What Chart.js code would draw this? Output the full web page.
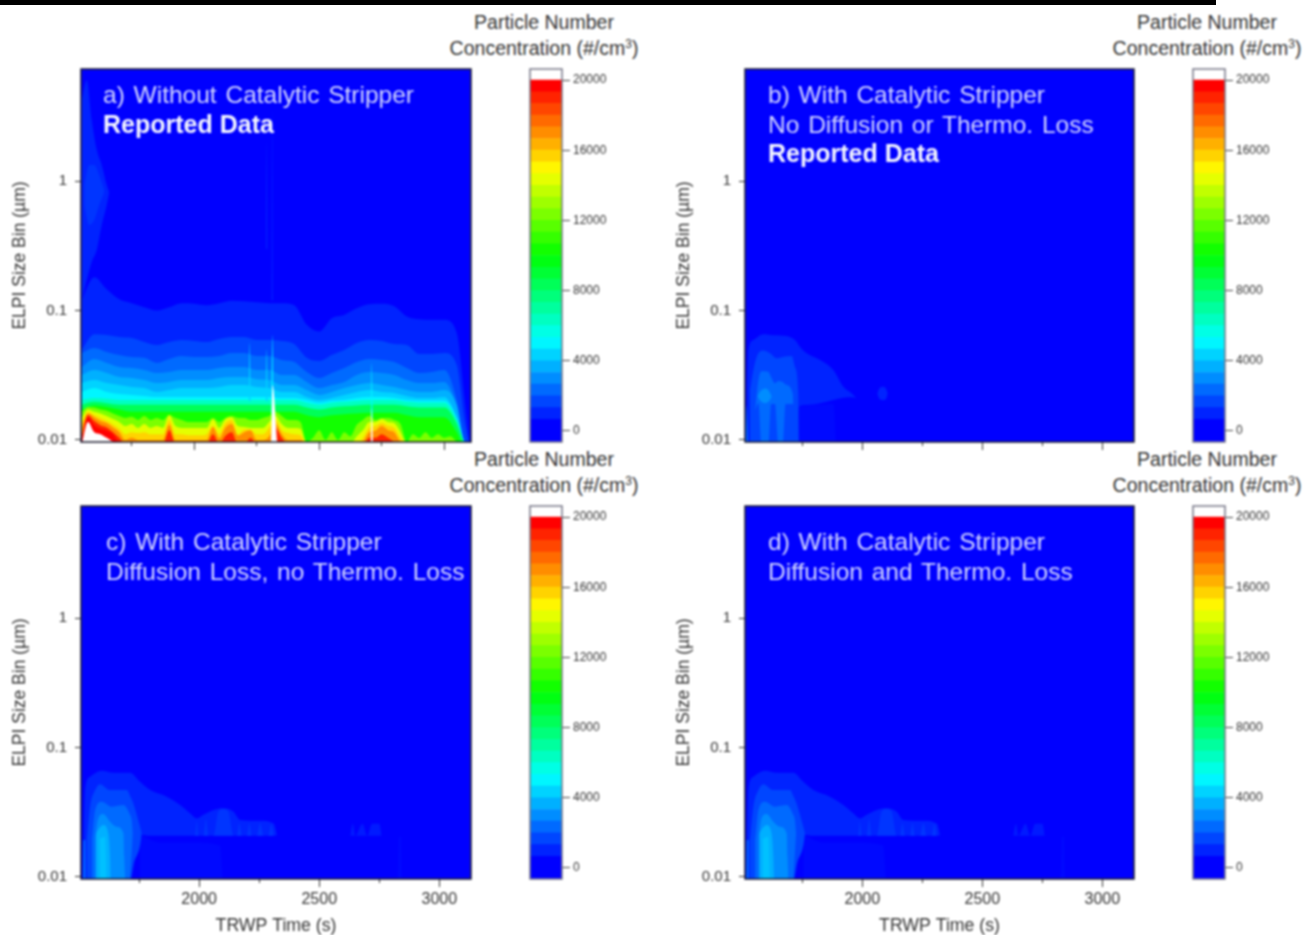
<!DOCTYPE html>
<html>
<head>
<meta charset="utf-8">
<title>ELPI size distributions</title>
<script src="https://cdn.jsdelivr.net/npm/chart.js@4/dist/chart.umd.min.js"></script>
<style>
  html, body { margin: 0; background: #fff; overflow: hidden; }
  #page { position: relative; width: 1307px; height: 935px; background: #fff; font-family: "Liberation Sans", Arial, sans-serif; filter: blur(0.8px); overflow: hidden; }
  #page canvas { position: absolute; }
  #topbar { position: absolute; left: 0; top: 0; width: 1216px; height: 5px; background: #000; z-index: 3; }
  .cbtitle { position: absolute; width: 220px; text-align: center; font-size: 19.5px; line-height: 26px; color: #333; white-space: nowrap; }
  .cbtitle sup { font-size: 12px; line-height: 0; }
  .note { position: absolute; font-size: 24.5px; line-height: 29.5px; color: #d4d8ff; white-space: pre; word-spacing: 2px; z-index: 2; }
  .note b { color: #f4f6ff; font-size: 25px; word-spacing: 0; }
</style>
</head>
<body>
<div id="topbar"></div>
<div id="page">
  <div class="cbtitle" style="left:434px;top:9px">Particle Number<br>Concentration (#/cm<sup>3</sup>)</div>
  <div class="cbtitle" style="left:1097px;top:9px">Particle Number<br>Concentration (#/cm<sup>3</sup>)</div>
  <div class="cbtitle" style="left:434px;top:446px">Particle Number<br>Concentration (#/cm<sup>3</sup>)</div>
  <div class="cbtitle" style="left:1097px;top:446px">Particle Number<br>Concentration (#/cm<sup>3</sup>)</div>
  <div class="note" style="left:103px;top:80px">a) Without Catalytic Stripper
<b>Reported Data</b></div>
  <div class="note" style="left:768px;top:80px">b) With Catalytic Stripper
No Diffusion or Thermo. Loss
<b>Reported Data</b></div>
  <div class="note" style="left:106px;top:527px">c) With Catalytic Stripper
Diffusion Loss, no Thermo. Loss</div>
  <div class="note" style="left:768px;top:527px">d) With Catalytic Stripper
Diffusion and Thermo. Loss</div>
</div>
<script>
'use strict'

// axis ticks
const xMajorTicks = [2000, 2500, 3000];
const xMinorTicks = [1750, 2250, 2750];
const yMajorTicks = [0.01, 0.1, 1];
const yMinorTicks = [0.02, 0.03, 0.04, 0.05, 0.06, 0.07, 0.08, 0.09, 0.2, 0.3, 0.4, 0.5, 0.6, 0.7, 0.8, 0.9, 2, 3, 4, 5, 6, 7];
const colorbarTicks = [0, 4000, 8000, 12000, 16000, 20000];
const colorbarEdges = [-627, 667, 1333, 2000, 2667, 3333, 4000, 4667, 5333, 6000, 6667, 7333, 8000, 8667, 9333, 10000, 10667, 11333, 12000, 12667, 13333, 14000, 14667, 15333, 16000, 16667, 17333, 18000, 18667, 19333, 20000, 20627];

// panel a: size (um) where the concentration crosses each level
const aTimes = [1550, 1600, 1650, 1700, 1750, 1800, 1850, 1900, 1950, 2000, 2050, 2100, 2150, 2200, 2250, 2300, 2350, 2400, 2450, 2500, 2550, 2600, 2650, 2700, 2750, 2800, 2850, 2900, 2950, 3000, 3050, 3080, 3100];
const aEdge667 = [.121, .181, .146, .122, .114, .106, .1, .106, .114, .113, .11, .114, .119, .118, .116, .114, .114, .11, .0775, .069, .0873, .0925, .104, .112, .113, .108, .09, .0855, .0847, .0847, .067, .0218, .0097];
const aEdge1333 = [.05, .0656, .0647, .0624, .0613, .0571, .0541, .0571, .0592, .0582, .0571, .0603, .0624, .0624, .0592, .0592, .0582, .0551, .0431, .0407, .0453, .0495, .0561, .0592, .0582, .0551, .0541, .0461, .0461, .0469, .038, .0143, .0092];
const aEdge2000 = [.0469, .0514, .0478, .0453, .0437, .0431, .0394, .0422, .0445, .0437, .0437, .0445, .0469, .0469, .0445, .0445, .0415, .04, .0335, .0301, .0329, .0359, .04, .0422, .0415, .04, .0359, .0329, .0335, .0347, .0204, .0097, .009];
const aEdge2667 = [.0366, .0422, .0394, .0366, .0359, .0347, .0329, .0335, .0347, .0347, .0347, .0359, .0366, .0366, .0347, .0347, .0318, .0318, .0281, .0252, .0266, .0281, .0318, .0335, .0329, .0318, .029, .0275, .0275, .0281, .018, .0097, .009];
const aEdge3333 = [.0318, .0347, .0329, .0306, .0301, .029, .0275, .0281, .029, .029, .029, .0301, .0306, .0306, .0295, .029, .0266, .0266, .0243, .0223, .0235, .0252, .0266, .0275, .0266, .0257, .0243, .0235, .0235, .0243, .0186, .0097, .009];
const aEdge4000 = [.0275, .029, .0275, .0266, .0257, .0252, .0235, .0243, .0252, .0252, .0252, .0257, .0266, .0266, .0257, .0252, .0235, .0235, .0215, .0204, .0211, .0223, .0235, .0243, .0235, .0231, .0219, .0211, .0211, .0215, .015, .0097, .009];
const aEdge4667 = [.0235, .0252, .0235, .0227, .0223, .0219, .0215, .0215, .0215, .0215, .0215, .0215, .0215, .0215, .0215, .0215, .0211, .0211, .0204, .0194, .0201, .0204, .0211, .0215, .0215, .0211, .0204, .0201, .0201, .0201, .0148, .0097, .009];
const aEdge6000 = [.0204, .0211, .0208, .0204, .0204, .0204, .0204, .0204, .0204, .0204, .0204, .0204, .0204, .0204, .0204, .0204, .0204, .0204, .0194, .0187, .0194, .0197, .0201, .0204, .0204, .0204, .0197, .0194, .0194, .0194, .0143, .0097, .009];
const aEdge8000 = [.0187, .0197, .0192, .0187, .0187, .0187, .0187, .0187, .0187, .0187, .0187, .0187, .0187, .0187, .0187, .0187, .0187, .0187, .0178, .0172, .0178, .0182, .0185, .0187, .0187, .0187, .0182, .0178, .0178, .0178, .0134, .0095, .009];
const aEdge10000 = [.0172, .0185, .018, .0172, .0165, .0165, .0165, .0165, .0165, .0165, .0165, .0165, .0165, .0165, .0165, .0165, .0165, .0165, .0155, .015, .0155, .0158, .016, .0162, .0162, .0162, .0155, .015, .015, .015, .0115, .009, .009];

const aHotTimes = [1550, 1575, 1600, 1625, 1650, 1675, 1700, 1725, 1750,
  1775, 1800, 1825, 1850, 1875, 1900, 1925, 1950, 1975,
  2000, 2025, 2050, 2075, 2100, 2125, 2150, 2175, 2200,
  2225, 2250, 2275, 2300, 2325, 2350, 2375, 2400, 2425,
  2450, 2475, 2500, 2525, 2550, 2575, 2600, 2625, 2650,
  2675, 2700, 2725, 2750, 2775, 2800, 2825, 2850, 2875,
  2900, 2925, 2950, 2975, 3000, 3025, 3050, 3075, 3100];
const aHot12000 = [.0165, .018, .0178, .0172, .0168, .016, .0153, .0148, .0151,
  .0143, .0153, .0143, .0148, .0143, .0156, .0148, .0143, .0138,
  .0138, .0138, .0138, .0148, .0138, .0148, .0153, .0148, .0148,
  .0143, .0143, .0148, .0153, .0165, .0153, .0143, .0143, .0138,
  .0097, .0104, .0119, .01, .0115, .01, .0115, .0107, .0131,
  .0143, .0153, .0143, .0148, .0148, .0143, .0133, .0097, .0111,
  .0104, .0115, .0104, .0111, .0104, .0107, .0097, .0093, .0093];
const aHot14000 = [.0148, .0172, .0165, .016, .0153, .0145, .0138, .0128, .0133,
  .0124, .0133, .0124, .0128, .0124, .0156, .0128, .0124, .0124,
  .0124, .0124, .0124, .0145, .0124, .0145, .015, .0128, .0126,
  .0124, .0124, .0124, .0138, .0153, .0133, .0124, .0124, .0122,
  .0093, .0093, .0093, .0093, .0093, .0093, .0093, .0093, .0107,
  .0119, .0138, .0138, .0145, .0138, .0135, .0115, .0093, .0093,
  .0093, .0093, .0093, .0093, .0093, .0093, .0093, .0093, .0093];
const aHot15333 = [.0135, .0165, .0155, .0148, .014, .0132, .0122, .0111, .0115,
  .0113, .0115, .0111, .0111, .0111, .0143, .0111, .0111, .0109,
  .0109, .0109, .0111, .0128, .0111, .0135, .0143, .0111, .012,
  .012, .0111, .0111, .0124, .0143, .0119, .0113, .0111, .0109,
  .0093, .0093, .0093, .0093, .0093, .0093, .0093, .0093, .0093,
  .0104, .0124, .0128, .0135, .0128, .0124, .0104, .0093, .0093,
  .0093, .0093, .0093, .0093, .0093, .0093, .0093, .0093, .0093];
const aHot16667 = [.0125, .016, .015, .014, .0135, .0125, .0115, .01, .0104,
  .01, .01, .01, .01, .01, .0131, .01, .01, .01,
  .01, .01, .01, .0126, .0103, .0125, .0133, .0108, .0115,
  .0119, .01, .01, .0107, .0133, .0111, .01, .01, .01,
  .0093, .0093, .0093, .0093, .0093, .0093, .0093, .0093, .0093,
  .0097, .0115, .0118, .0128, .0119, .0115, .0097, .0093, .0093,
  .0093, .0093, .0093, .0093, .0093, .0093, .0093, .0093, .0093];
const aHot18667 = [.0107, .0155, .014, .013, .0125, .0115, .0104, .0093, .0093,
  .0093, .0093, .0093, .0093, .0093, .0119, .0093, .0093, .0093,
  .0093, .0093, .0093, .0111, .0093, .0108, .0115, .0093, .0093,
  .0104, .0093, .0093, .0093, .0124, .0104, .0093, .0093, .0093,
  .0093, .0093, .0093, .0093, .0093, .0093, .0093, .0093, .0093,
  .0093, .0104, .0104, .0111, .0104, .0097, .0093, .0093, .0093,
  .0093, .0093, .0093, .0093, .0093, .0093, .0093, .0093, .0093];
const aRedTimes = [1550, 1575, 1600, 1625, 1650, 1675, 1700];
const aRed19333 = [.0097, .015, .013, .0122, .0118, .0111, .0093];
const aWhite20000 = [.0093, .0138, .0115, .0111, .0104, .0097, .0093];

// panel a: narrow spikes and the faint plume at top left
const aSpike1Times = [2307, 2313, 2332];
const aSpike1White = [.0093, .0266, .0093];
const aSpike1CyanTimes = [2308, 2313, 2318];
const aSpike1Cyan = [.0093, .0647, .0093];
const aSpike2Times = [2706, 2710, 2715];
const aSpike2White = [.0093, .0175, .0093];
const aSpike2Cyan = [.0093, .0394, .0093];
const aSpike3Times = [2218, 2222, 2226];
const aSpike3 = [.02, .0566, .02];
const aSpike4Times = [2286, 2290, 2294];
const aSpike4 = [.02, .05, .02];
const aStreak1Times = [2309, 2312, 2315];
const aStreak1 = [.12, 3.5, .12];
const aStreak2Times = [2287, 2290, 2293];
const aStreak2 = [.3, 2, .3];
const aPlumeTimes = [1550, 1570, 1590, 1610, 1630, 1650, 1660];
const aPlumeTop = [4.22, 6, 2.96, 1.74, 1.33, .93, .82];
const aPlumeBottom = [.12, .172, .237, .293, .457, .653, .82];
const aCoreTimes = [1560, 1580, 1600, 1620, 1640];
const aCoreTop = [.93, 1.33, 1.33, 1.11, .85];
const aCoreBottom = [.653, .457, .5, .653, .82];

// panel b
const bTimes = [1518, 1525, 1546, 1587, 1629, 1685, 1726, 1735, 1768, 1824, 1879, 1921, 1956, 1975];
const bOuterTop = [.0216, .0495, .0592, .0655, .0645, .0635, .0575, .054, .0467, .0415, .0347, .0258, .0229, .0211];
const bOuterBottom = [.0093, .0093, .0093, .0093, .0093, .0093, .0093, .018, .0186, .0192, .0204, .0212, .0214, .0211];
const bFaintTimes = [1726, 1800, 1880, 1890];
const bFaint = [.018, .0186, .019, .0093];
const bBlobTimes = [2062, 2072, 2086, 2098, 2106];
const bBlobTop = [.0228, .0252, .0258, .025, .0228];
const bBlobBottom = [.0228, .0207, .0203, .0207, .0228];
const b1333Times = [1532, 1546, 1560, 1587, 1615, 1643, 1671, 1706, 1719, 1733, 1736];
const b1333 = [.0243, .0347, .044, .049, .0467, .0428, .044, .0445, .0368, .0229, .0093];
const b2000Times = [1553, 1567, 1580, 1608, 1620, 1636, 1650, 1668, 1680, 1710, 1713];
const b2000Top = [.017, .0291, .034, .0336, .0305, .0274, .0285, .028, .0268, .0229, .019];
const b2000Bottom = [.017, .0192, .0093, .0093, .019, .019, .0093, .0093, .019, .019, .019];
const b2667Times = [1565, 1580, 1594, 1608, 1622];
const b2667Top = [.0222, .0243, .025, .0243, .0218];
const b2667Bottom = [.0214, .0197, .0192, .0197, .0214];
const bEdgeTimes = [1514, 1518, 1524];
const bEdgeStreak = [.0093, .0185, .0093];

// panels c and d show almost the same shapes
const cTimes = [1518, 1525, 1546, 1594, 1643, 1712, 1754, 1796, 1865, 1921, 1962, 1990, 2018, 2060, 2101, 2143, 2171, 2212, 2254, 2310, 2324];
const cOuterTop = [.0193, .0469, .0594, .0661, .0638, .0638, .0543, .0469, .0417, .0359, .031, .0283, .0302, .0329, .0339, .0319, .0275, .0272, .0272, .0259, .0211];
const cOuterBottom = [.0093, .0093, .0093, .0093, .0093, .0093, .0212, .0208, .0208, .0208, .0208, .0208, .0208, .0208, .0208, .0208, .0208, .0208, .0208, .0208, .0211];
const cFaintTimes = [1754, 1837, 1976, 2087, 2099];
const cFaint = [.0212, .0185, .0185, .0175, .0093];
const cTailTimes = [1983, 1990, 1997, 2007, 2018, 2028, 2039, 2050, 2060, 2080, 2101, 2122, 2143, 2150, 2157, 2167, 2178, 2188, 2199, 2209, 2219, 2230, 2240, 2254, 2268, 2278, 2289, 2300, 2310];
const cTail = [.0208, .027, .0208, .0208, .0208, .028, .0208, .0208, .0208, .032, .0335, .032, .0208, .0208, .0208, .026, .0208, .0208, .0208, .026, .0208, .0208, .0208, .026, .0208, .0208, .0208, .0255, .0208];
const cCombTimes = [2629, 2640, 2650, 2680, 2700, 2720, 2750, 2760];
const cComb = [.0208, .0258, .0208, .0258, .0208, .0258, .0258, .0208];
const cFarTimes = [2828, 2832, 2840, 2844];
const cFar = [.0093, .0205, .0205, .0093];
const c1333Times = [1532, 1546, 1567, 1587, 1629, 1699, 1712, 1726, 1754, 1761];
const c1333Top = [.0193, .0349, .0469, .0521, .0469, .0469, .0425, .037, .0244, .0217];
const c1333Bottom = [.0093, .0093, .0093, .0093, .0093, .0093, .0093, .0125, .0175, .0217];
const c2000Times = [1553, 1567, 1594, 1636, 1685, 1710, 1719, 1724];
const c2000Top = [.0193, .0329, .0381, .0349, .0359, .0308, .0275, .0217];
const c2000Bottom = [.0093, .0093, .0093, .0093, .0093, .0093, .0152, .0217];
const c2667Times = [1567, 1580, 1601, 1629, 1657, 1685, 1688, 1692];
const c2667 = [.0205, .0283, .0306, .0267, .0244, .0217, .0144, .0093];
const c3333Times = [1571, 1587, 1601, 1622, 1629, 1632];
const c3333 = [.0217, .0242, .0252, .0215, .0144, .0093];
const c3667Times = [1585, 1608, 1615];
const c3667 = [.0197, .0205, .0093];
const cEdgeTimes = [1516, 1518, 1526, 1528];
const cEdgeStreak = [.0093, .0193, .0193, .0093];

// blue, cyan, green, yellow, red, with 20000 as the top of the scale
function colorOf(level) {
  if (level >= 20000) return '#ffffff';
  const v = Math.max(level, 0) * 20000 / 19333 / 5000;
  if (v >= 4) return 'rgb(255,0,0)';
  const f = v - Math.floor(v);
  const up = Math.round(255 * f), down = Math.round(255 * (1 - f));
  if (v < 1) return `rgb(0,${up},255)`;
  if (v < 2) return `rgb(0,255,${down})`;
  if (v < 3) return `rgb(${up},255,0)`;
  return `rgb(255,${down},0)`;
}

function contour(times, sizes, level, fill) {
  return {
    data: times.map((t, i) => ({ x: t, y: sizes[i] })),
    backgroundColor: colorOf(level),
    borderWidth: 0,
    pointRadius: 0,
    cubicInterpolationMode: 'monotone',
    fill: fill === undefined ? 'start' : fill,
  };
}

function band(times, top, bottom, level) {
  return [contour(times, top, level, '+1'), contour(times, bottom, level, false)];
}

function strip(times, sizes, level, base) {
  return contour(times, sizes, level, { value: base });
}

// the first dataset is drawn last
const panelA = [
  contour(aSpike1Times, aSpike1White, 20000),
  contour(aSpike2Times, aSpike2White, 20000),
  contour(aRedTimes, aWhite20000, 20000),
  contour(aRedTimes, aRed19333, 19333),
  contour(aHotTimes, aHot18667, 18667),
  contour(aHotTimes, aHot16667, 16667),
  contour(aHotTimes, aHot15333, 15333),
  contour(aHotTimes, aHot14000, 14000),
  contour(aHotTimes, aHot12000, 12000),
  contour(aSpike1CyanTimes, aSpike1Cyan, 4667),
  contour(aSpike2Times, aSpike2Cyan, 4667),
  strip(aSpike3Times, aSpike3, 4000, .02),
  strip(aSpike4Times, aSpike4, 4000, .02),
  contour(aTimes, aEdge10000, 10000),
  contour(aTimes, aEdge8000, 8000),
  contour(aTimes, aEdge6000, 6000),
  contour(aTimes, aEdge4667, 4667),
  contour(aTimes, aEdge4000, 4000),
  contour(aTimes, aEdge3333, 3333),
  contour(aTimes, aEdge2667, 2667),
  contour(aTimes, aEdge2000, 2000),
  contour(aTimes, aEdge1333, 1333),
  contour(aTimes, aEdge667, 667),
  ...band(aCoreTimes, aCoreTop, aCoreBottom, 1000),
  ...band(aPlumeTimes, aPlumeTop, aPlumeBottom, 667),
  strip(aStreak1Times, aStreak1, 667, .12),
  strip(aStreak2Times, aStreak2, 667, .3),
];

const panelB = [
  ...band(b2667Times, b2667Top, b2667Bottom, 2667),
  ...band(b2000Times, b2000Top, b2000Bottom, 2000),
  contour(b1333Times, b1333, 1333),
  contour(bEdgeTimes, bEdgeStreak, 2000),
  ...band(bTimes, bOuterTop, bOuterBottom, 667),
  ...band(bBlobTimes, bBlobTop, bBlobBottom, 667),
  contour(bFaintTimes, bFaint, 167),
];

function lossPanel() {
  return [
    contour(c3667Times, c3667, 3667),
    contour(c3333Times, c3333, 3333),
    contour(c2667Times, c2667, 2667),
    ...band(c2000Times, c2000Top, c2000Bottom, 2000),
    ...band(c1333Times, c1333Top, c1333Bottom, 1333),
    contour(cEdgeTimes, cEdgeStreak, 2000),
    strip(cTailTimes, cTail, 1000, .0208),
    ...band(cTimes, cOuterTop, cOuterBottom, 667),
    strip(cCombTimes, cComb, 500, .0208),
    contour(cFarTimes, cFar, 167),
    contour(cFaintTimes, cFaint, 167),
  ];
}

const plotBackground = {
  id: 'plotBackground',
  beforeDatasetsDraw(chart) {
    const a = chart.chartArea, ctx = chart.ctx;
    ctx.save();
    ctx.fillStyle = '#0000ff';
    ctx.fillRect(a.left, a.top, a.right - a.left, a.bottom - a.top);
    ctx.restore();
  },
};

const frame = {
  id: 'frame',
  afterDraw(chart, args, opts) {
    const a = chart.chartArea, ctx = chart.ctx;
    ctx.save();
    ctx.strokeStyle = opts.color;
    ctx.lineWidth = 1.5;
    ctx.strokeRect(a.left, a.top, a.right - a.left, a.bottom - a.top);
    ctx.restore();
  },
};

function addCanvas(left, top, width, height) {
  const c = document.createElement('canvas');
  c.width = width;
  c.height = height;
  c.style.left = left + 'px';
  c.style.top = top + 'px';
  c.style.width = width + 'px';
  c.style.height = height + 'px';
  document.getElementById('page').appendChild(c);
  return c.getContext('2d');
}

function setTicks(list) {
  return scale => { scale.ticks = list.map(v => ({ value: v })); };
}

// fixed axis size, and no extra margin for the end tick labels
function fixSize(prop, size) {
  return s => {
    s[prop] = size;
    s.paddingTop = s.paddingBottom = s.paddingLeft = s.paddingRight = 0;
  };
}

function drawPanel(box, datasets, xMin, xMax, labelled) {
  const under = labelled ? 58 : 14;
  const ctx = addCanvas(box.left - 81, box.top - 9, box.right - box.left + 90, box.bottom - box.top + 9 + under);
  new Chart(ctx, {
    type: 'line',
    data: { datasets },
    plugins: [plotBackground, frame],
    options: {
      responsive: false,
      animation: false,
      events: [],
      layout: { padding: { top: 9, right: 9 } },
      plugins: { legend: { display: false }, tooltip: { enabled: false }, frame: { color: '#1c1c30' } },
      scales: {
        x: {
          type: 'linear', min: xMin, max: xMax,
          afterBuildTicks: setTicks(xMajorTicks),
          afterFit: fixSize('height', under),
          grid: { drawOnChartArea: false, tickLength: 8, tickColor: '#333' },
          border: { display: false },
          ticks: { display: labelled, autoSkip: false, maxRotation: 0, padding: 3, color: '#333', font: { family: 'Liberation Sans', size: 16 }, callback: v => String(v) },
          title: { display: labelled, text: 'TRWP Time (s)', color: '#333', padding: { top: 0, bottom: 0 }, font: { family: 'Liberation Sans', size: 17.7 } },
        },
        xMinor: {
          type: 'linear', axis: 'x', position: 'bottom', weight: -1, min: xMin, max: xMax,
          afterBuildTicks: setTicks(xMinorTicks),
          afterFit: fixSize('height', 0),
          grid: { drawOnChartArea: false, tickLength: 4, tickColor: '#333' },
          border: { display: false },
          ticks: { display: false },
        },
        y: {
          type: 'logarithmic', min: 0.00965, max: 7.33,
          afterBuildTicks: setTicks(yMajorTicks),
          afterFit: fixSize('width', 81),
          grid: { drawOnChartArea: false, tickLength: 6, tickColor: '#333' },
          border: { display: false },
          ticks: { autoSkip: false, padding: 8, color: '#333', font: { family: 'Liberation Sans', size: 15 }, callback: v => String(v) },
          title: { display: true, text: 'ELPI Size Bin (µm)', color: '#333', padding: { top: 10, bottom: 0 }, font: { family: 'Liberation Sans', size: 17.5 } },
        },
        yMinor: {
          type: 'logarithmic', axis: 'y', position: 'left', min: 0.00965, max: 7.33,
          afterBuildTicks: setTicks(yMinorTicks),
          afterFit: fixSize('width', 0),
          grid: { drawOnChartArea: false, tickLength: 3, tickColor: '#333' },
          border: { display: false },
          ticks: { display: false },
        },
      },
    },
  });
}

function drawColorbar(left, top) {
  const ctx = addCanvas(left - 1, top - 1, 100, 375);
  const datasets = colorbarEdges.slice(0, -1).map((lo, i) => ({
    data: [[lo, colorbarEdges[i + 1]]],
    backgroundColor: colorOf(lo),
    borderWidth: 0,
    grouped: false,
    barPercentage: 1,
    categoryPercentage: 1,
  }));
  new Chart(ctx, {
    type: 'bar',
    data: { labels: [''], datasets },
    plugins: [frame],
    options: {
      responsive: false,
      animation: false,
      events: [],
      layout: { padding: { top: 1, left: 1, bottom: 1 } },
      plugins: { legend: { display: false }, tooltip: { enabled: false }, frame: { color: '#777788' } },
      scales: {
        x: { display: false },
        y: {
          position: 'right', min: -627, max: 20627,
          afterBuildTicks: setTicks(colorbarTicks),
          afterFit: fixSize('width', 67),
          grid: { drawOnChartArea: false, tickLength: 8, tickColor: '#444' },
          border: { display: false },
          ticks: { autoSkip: false, padding: 3, color: '#333', font: { family: 'Liberation Sans', size: 12 }, callback: v => String(v) },
        },
      },
    },
  });
}

drawPanel({ left: 81, right: 471, top: 69, bottom: 442 }, panelA, 1547, 3107, false);
drawPanel({ left: 745, right: 1134, top: 69, bottom: 442 }, panelB, 1511, 3132, false);
drawPanel({ left: 81, right: 471, top: 506, bottom: 879 }, lossPanel(), 1508, 3132, true);
drawPanel({ left: 745, right: 1134, top: 506, bottom: 879 }, lossPanel(), 1511, 3132, true);

drawColorbar(530, 69);
drawColorbar(1193, 69);
drawColorbar(530, 506);
drawColorbar(1193, 506);
</script>
</body>
</html>
